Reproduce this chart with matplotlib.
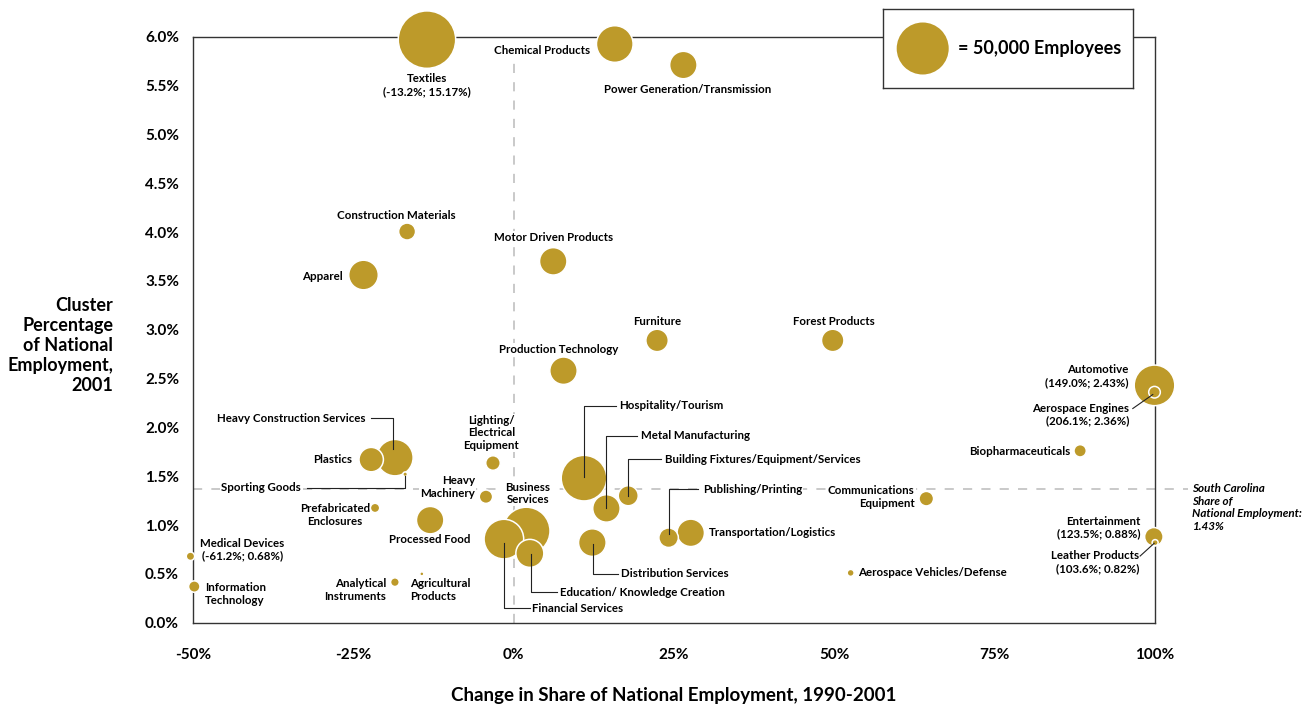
import matplotlib
matplotlib.use("Agg")
import matplotlib.pyplot as plt
import matplotlib.transforms as mtransforms
from matplotlib.lines import Line2D
import numpy as np

plt.rcParams['font.family'] = ['Lato', 'DejaVu Sans']

# ---------------- data ----------------
clusters = [
    "Textiles", "Chemical Products", "Power Generation/Transmission",
    "Construction Materials", "Apparel", "Motor Driven Products",
    "Furniture", "Forest Products", "Production Technology",
    "Automotive", "Aerospace Engines", "Biopharmaceuticals",
    "Communications Equipment", "Entertainment", "Leather Products",
    "Aerospace Vehicles/Defense", "Medical Devices", "Information Technology",
    "Heavy Construction Services", "Plastics", "Sporting Goods",
    "Lighting/Electrical Equipment", "Heavy Machinery", "Prefabricated Enclosures",
    "Processed Food", "Analytical Instruments", "Agricultural Products",
    "Business Services", "Financial Services", "Education/ Knowledge Creation",
    "Hospitality/Tourism", "Metal Manufacturing", "Building Fixtures/Equipment/Services",
    "Distribution Services", "Publishing/Printing", "Transportation/Logistics",
]
# change in share of national employment 1990-2001 (%) as plotted (clipped at axis edges)
share_change = [
    -13.5, 15.8, 26.5,
    -16.6, -23.4, 6.2,
    22.4, 49.8, 7.8,
    100.0, 100.0, 88.4,
    64.4, 99.9, 100.1,
    52.6, -50.4, -49.8,
    -18.5, -22.2, -16.9,
    -3.2, -4.3, -21.6,
    -13.0, -18.5, -14.3,
    2.0, -1.5, 2.55,
    11.0, 14.5, 17.9,
    12.3, 24.2, 27.65,
]
# cluster percentage of national employment 2001 (%) as plotted
national_pct = [
    5.97, 5.925, 5.71,
    4.005, 3.56, 3.70,
    2.89, 2.89, 2.58,
    2.43, 2.36, 1.76,
    1.27, 0.88, 0.82,
    0.51, 0.68, 0.37,
    1.69, 1.67, 1.52,
    1.635, 1.29, 1.175,
    1.05, 0.415, 0.50,
    0.94, 0.856, 0.71,
    1.48, 1.17, 1.30,
    0.82, 0.87, 0.92,
]
employees = [
    61000, 24800, 13900,
    5300, 16200, 13900,
    9300, 9300, 13900,
    30500, 2500, 2800,
    3900, 6300, 670,
    900, 1300, 2400,
    24500, 11000, 390,
    3900, 3300, 1600,
    13900, 1400, 300,
    41500, 29000, 14500,
    38400, 13900, 7400,
    14100, 7000, 13900,
]
legend_employees = 50000
sc_share_text = "1.43%"
sc_share_line = 1.37   # where the reference line is drawn

x_ticks = [-50, -25, 0, 25, 50, 75, 100]
x_ticklabels = ["-50%", "-25%", "0%", "25%", "50%", "75%", "100%"]
y_ticks = [0.0, 0.5, 1.0, 1.5, 2.0, 2.5, 3.0, 3.5, 4.0, 4.5, 5.0, 5.5, 6.0]
y_ticklabels = ["%.1f%%" % v for v in y_ticks]

# ---------------- label layout (pixel offsets from bubble centre) ----------------
# name: (text, dx, dy, ha, multialign, leader)
layout = {
    "Textiles": ("Textiles\n(-13.2%; 15.17%)", 0, -45.5, "center", "center", None),
    "Chemical Products": ("Chemical Products", -24.3, -6.6, "right", "right", None),
    "Power Generation/Transmission": ("Power Generation/Transmission", 4.7, -24, "center", "center", None),
    "Construction Materials": ("Construction Materials", -11, 16.4, "center", "center", None),
    "Apparel": ("Apparel", -20.6, -1, "right", "right", None),
    "Motor Driven Products": ("Motor Driven Products", 0, 24, "center", "center", None),
    "Furniture": ("Furniture", 0, 19.4, "center", "center", None),
    "Forest Products": ("Forest Products", 1, 19.4, "center", "center", None),
    "Production Technology": ("Production Technology", -4.7, 21, "center", "center", None),
    "Automotive": ("Automotive\n(149.0%; 2.43%)", -26, 9.2, "right", "right", None),
    "Aerospace Engines": ("Aerospace Engines\n(206.1%; 2.36%)", -25, -22.3, "right", "right",
                          [(-21.7, -16.3), (-1.7, -2.3)]),
    "Biopharmaceuticals": ("Biopharmaceuticals", -10, -0.6, "right", "right", None),
    "Communications Equipment": ("Communications\nEquipment", -11.7, 2, "right", "right", None),
    "Entertainment": ("Entertainment\n(123.5%; 0.88%)", -13, 9.3, "right", "right", None),
    "Leather Products": ("Leather Products\n(103.6%; 0.82%)", -16, -19.7, "right", "right",
                         [(-15, -13.4), (-1, -0.7)]),
    "Aerospace Vehicles/Defense": ("Aerospace Vehicles/Defense", 7.3, 0, "left", "left", None),
    "Medical Devices": ("Medical Devices\n(-61.2%; 0.68%)", 10, 6.5, "left", "center", None),
    "Information Technology": ("Information\nTechnology", 10.7, -7.4, "left", "left", None),
    "Heavy Construction Services": ("Heavy Construction Services", -29.3, 39.3, "right", "right",
                                    [(-24.3, 39.3), (-1.7, 39.3), (-1.7, 9)]),
    "Plastics": ("Plastics", -19, 0, "right", "right", None),
    "Sporting Goods": ("Sporting Goods", -104.3, -13.7, "right", "right",
                       [(-98.6, -13.7), (-0.3, -13.7), (-0.3, -2)]),
    "Lighting/Electrical Equipment": ("Lighting/\nElectrical\nEquipment", -1.6, 30.2, "center", "center", None),
    "Heavy Machinery": ("Heavy\nMachinery", -11, 9.6, "right", "right", None),
    "Prefabricated Enclosures": ("Prefabricated\nEnclosures", -40.3, -7, "center", "center", None),
    "Processed Food": ("Processed Food", -0.5, -19.6, "center", "center", None),
    "Analytical Instruments": ("Analytical\nInstruments", -9, -7.5, "right", "right", None),
    "Agricultural Products": ("Agricultural\nProducts", -11.7, -15.8, "left", "left", None),
    "Business Services": ("Business\nServices", 1.6, 37.3, "center", "center", None),
    "Financial Services": ("Financial Services", 28.4, -69.3, "left", "left",
                           [(0, -4), (0, -69.3), (25.7, -69.3)]),
    "Education/ Knowledge Creation": ("Education/ Knowledge Creation", 30, -39, "left", "left",
                                      [(0.7, -0.7), (0.7, -39), (27.3, -39)]),
    "Hospitality/Tourism": ("Hospitality/Tourism", 35.3, 72.3, "left", "left",
                            [(0.3, 0.7), (0.3, 72.3), (32, 72.3)]),
    "Metal Manufacturing": ("Metal Manufacturing", 34.3, 72.7, "left", "left",
                            [(0, 0), (0, 72.7), (31, 72.7)]),
    "Building Fixtures/Equipment/Services": ("Building Fixtures/Equipment/Services", 36.7, 36.6, "left", "left",
                                             [(-0.6, 0), (-0.6, 36.6), (32.4, 36.6)]),
    "Distribution Services": ("Distribution Services", 29, -31, "left", "left",
                              [(0.6, -1.7), (0.6, -31), (25.6, -31)]),
    "Publishing/Printing": ("Publishing/Printing", 34.3, 48.3, "left", "left",
                            [(0, 3.3), (0, 48.3), (29.3, 48.3)]),
    "Transportation/Logistics": ("Transportation/Logistics", 18.3, 0, "left", "left", None),
}

GOLD = "#bd9a2a"
W, H, DPI = 1314, 709, 100
fig = plt.figure(figsize=(W / DPI, H / DPI), dpi=DPI)
fig.patch.set_facecolor("white")

ax_l, ax_r, ax_t, ax_b = 193, 1154.5, 36.7, 622.7
ax = fig.add_axes([ax_l / W, 1 - ax_b / H, (ax_r - ax_l) / W, (ax_b - ax_t) / H])
ax.set_xlim(-50, 100)
ax.set_ylim(0.034, 5.986)

for s in ax.spines.values():
    s.set_color("#333333")
    s.set_linewidth(1.0)
    s.set_zorder(2)

ax.set_xticks(x_ticks)
ax.set_xticklabels(x_ticklabels, fontsize=11, fontweight="bold")
ax.set_yticks(y_ticks)
ax.set_yticklabels(y_ticklabels, fontsize=11, fontweight="bold")
ax.tick_params(axis="both", length=0)
ax.tick_params(axis="x", pad=18)
ax.tick_params(axis="y", pad=10)

# reference lines
ax.axvline(0, color="#bbbbbb", lw=1.1, dashes=(6, 6), zorder=1)
ax.plot([-50, 105.2], [sc_share_line, sc_share_line], color="#bbbbbb", lw=1.1,
        dashes=(6, 6), zorder=1, clip_on=False)

# bubbles (largest first so smaller sit on top)
def size_pts2(emp):
    r_px = 26.0 * np.sqrt(emp / legend_employees)
    d_pt = 2 * r_px * 72.0 / DPI
    return d_pt ** 2

order = np.argsort(employees)[::-1]
xs = np.array(share_change)[order]
ys = np.array(national_pct)[order]
ss = np.array([size_pts2(e) for e in employees])[order]
ax.scatter(xs, ys, s=ss, c=GOLD, edgecolors="white", linewidths=1.1, zorder=4, clip_on=False)

# labels
fig.canvas.draw()
for name, xv, yv in zip(clusters, share_change, national_pct):
    text, dx, dy, ha, ma, leader = layout[name]
    ax.annotate(text, xy=(xv, yv), xytext=(dx, dy), textcoords="offset pixels",
                ha=ha, va="center", multialignment=ma, fontsize=8.3, fontweight="bold",
                color="black", zorder=3, annotation_clip=False,
                bbox=dict(boxstyle="square,pad=0.08", fc="white", ec="none"))
    if leader:
        cx, cy = ax.transData.transform((xv, yv))
        px = [cx + p[0] for p in leader]
        py = [cy + p[1] for p in leader]
        ln = Line2D(px, py, transform=mtransforms.IdentityTransform(), color="#222222",
                    lw=0.8, zorder=6, clip_on=False)
        ax.add_line(ln)

# reference line note
ax.annotate("South Carolina\nShare of\nNational Employment:\n" + sc_share_text,
            xy=(100, sc_share_line), xytext=(38, 6), textcoords="offset pixels",
            ha="left", va="top", fontsize=8.4, fontweight="bold", fontstyle="italic",
            annotation_clip=False, linespacing=1.2)

# axis titles
fig.text(674 / W, 1 - 695 / H, "Change in Share of National Employment, 1990-2001",
         ha="center", va="center", fontsize=13.5, fontweight="bold")
fig.text(113 / W, 1 - 345.5 / H, "Cluster\nPercentage\nof National\nEmployment,\n2001",
         ha="right", va="center", multialignment="right", fontsize=13,
         fontweight="bold", linespacing=1.2)

# size legend
lg = fig.add_axes([882.7 / W, 1 - 87.7 / H, (1133.3 - 882.7) / W, (87.7 - 9.3) / H])
lg.set_xlim(0, 1)
lg.set_ylim(0, 1)
lg.set_xticks([])
lg.set_yticks([])
lg.set_facecolor("white")
for s in lg.spines.values():
    s.set_color("#333333")
    s.set_linewidth(1.0)
lg.scatter([(922.7 - 882.7) / (1133.3 - 882.7)], [0.5], s=size_pts2(legend_employees),
           c=GOLD, edgecolors="none", clip_on=False)
lg.text((958 - 882.7) / (1133.3 - 882.7), 0.5, "= 50,000 Employees", ha="left", va="center",
        fontsize=13, fontweight="bold")

fig.savefig("out.png", dpi=DPI, facecolor="white")
